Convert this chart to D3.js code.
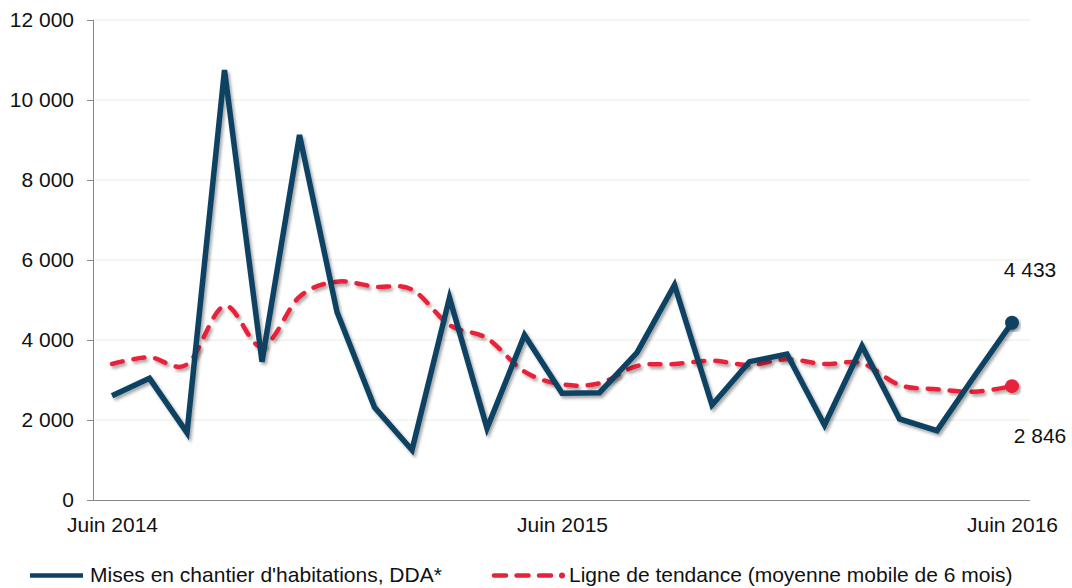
<!DOCTYPE html>
<html><head><meta charset="utf-8">
<script src="https://cdn.jsdelivr.net/npm/d3@7"></script>
<style>body{margin:0;background:#fff}svg{display:block}text{font-family:"Liberation Sans",Arial,sans-serif;fill:#111}</style>
</head><body>
<svg id="c" width="1072" height="588"></svg>
<script>
const months = d3.range(25); // Juin 2014 .. Juin 2016, monthly index
const xTickIdx = [0, 12, 24];
const xTickLabels = ["Juin 2014", "Juin 2015", "Juin 2016"];
const yTicks = [0, 2000, 4000, 6000, 8000, 10000, 12000];
const starts = [2608, 3042, 1683, 10750, 3458, 9125, 4700, 2317, 1250, 5058, 1792, 4125, 2667, 2683, 3683, 5375, 2375, 3458, 3650, 1875, 3850, 2025, 1733, 3100, 4433];
const trend = [3400, 3567, 3392, 4850, 3833, 5083, 5458, 5333, 5260, 4375, 4042, 3208, 2892, 2917, 3350, 3400, 3483, 3375, 3517, 3400, 3417, 2875, 2767, 2708, 2846];
const seriesNames = ["Mises en chantier d'habitations, DDA*", "Ligne de tendance (moyenne mobile de 6 mois)"];

const fmt = v => d3.format(",")(v).replace(/,/g, " ");
const svg = d3.select("#c");
const x = d3.scaleLinear().domain([0, 24]).range([112, 1012]);
const y = d3.scaleLinear().domain([0, 12000]).range([500, 20]);

const defs = svg.append("defs");
const f = defs.append("filter").attr("id", "sh").attr("x", "-10%").attr("y", "-10%").attr("width", "120%").attr("height", "120%");
f.append("feDropShadow").attr("dx", 2).attr("dy", 2.5).attr("stdDeviation", 1.8).attr("flood-color", "#000").attr("flood-opacity", 0.35);

// grid
svg.append("g").selectAll("line").data(yTicks.filter(d => d > 0)).join("line")
  .attr("x1", 93).attr("x2", 1030).attr("y1", d => y(d)).attr("y2", d => y(d))
  .attr("stroke", "#ecebdc").attr("stroke-width", 1);

// y axis
const ya = svg.append("g").attr("transform", "translate(93,0)")
  .call(d3.axisLeft(y).tickValues(yTicks).tickFormat(fmt).tickSize(6).tickPadding(13));
ya.select(".domain").attr("stroke", "#888").attr("d", "M0.5,20V500.5");
ya.selectAll(".tick line").attr("stroke", "#888");
ya.selectAll(".tick text").attr("font-size", 21).attr("fill", "#111").attr("font-family", "Liberation Sans, Arial, sans-serif");

// x axis
const xa = svg.append("g").attr("transform", "translate(0,500)")
  .call(d3.axisBottom(x).tickValues(xTickIdx).tickFormat((d, i) => xTickLabels[i]).tickSize(0).tickPadding(17));
xa.select(".domain").attr("stroke", "#888").attr("d", "M93,0.5H1030");
xa.selectAll(".tick text").attr("font-size", 21).attr("fill", "#111").attr("font-family", "Liberation Sans, Arial, sans-serif");

// trend line
const trendLine = d3.line().x((d, i) => x(months[i])).y(d => y(d)).curve(d3.curveCatmullRom.alpha(0));
svg.append("path").datum(trend).attr("d", trendLine).attr("fill", "none")
  .attr("stroke", "#e8213a").attr("stroke-width", 4.5).attr("stroke-dasharray", "11,11").attr("stroke-linecap", "round").attr("filter", "url(#sh)");

// starts line
const line = d3.line().x((d, i) => x(months[i])).y(d => y(d));
svg.append("path").datum(starts).attr("d", line).attr("fill", "none")
  .attr("stroke", "#0c4263").attr("stroke-width", 5.5).attr("stroke-linejoin", "miter").attr("filter", "url(#sh)");

// end markers
const last = months.length - 1;
svg.append("circle").attr("cx", x(months[last])).attr("cy", y(starts[last])).attr("r", 7).attr("fill", "#0c4263").attr("filter", "url(#sh)");
svg.append("circle").attr("cx", x(months[last])).attr("cy", y(trend[last])).attr("r", 7).attr("fill", "#e8213a").attr("filter", "url(#sh)");

svg.append("text").attr("x", x(months[last]) + 18).attr("y", y(starts[last]) - 46).attr("text-anchor", "middle")
  .attr("font-size", 21).text(fmt(starts[last]));
svg.append("text").attr("x", x(months[last]) + 28).attr("y", y(trend[last]) + 57).attr("text-anchor", "middle")
  .attr("font-size", 21).text(fmt(trend[last]));

// legend
const lg = svg.append("g");
lg.append("line").attr("x1", 30).attr("x2", 83).attr("y1", 575.5).attr("y2", 575.5).attr("stroke", "#0c4263").attr("stroke-width", 4.5);
lg.append("text").attr("x", 90).attr("y", 582).attr("font-size", 21).text(seriesNames[0]);
lg.append("line").attr("x1", 494).attr("x2", 552).attr("y1", 575.5).attr("y2", 575.5).attr("stroke", "#e8213a").attr("stroke-width", 4.5).attr("stroke-dasharray", "12,10.5").attr("stroke-linecap", "round");
lg.append("circle").attr("cx", 562).attr("cy", 575.5).attr("r", 3).attr("fill", "#e8213a");
lg.append("text").attr("x", 569).attr("y", 582).attr("font-size", 21).text(seriesNames[1]);
</script>
</body></html>
